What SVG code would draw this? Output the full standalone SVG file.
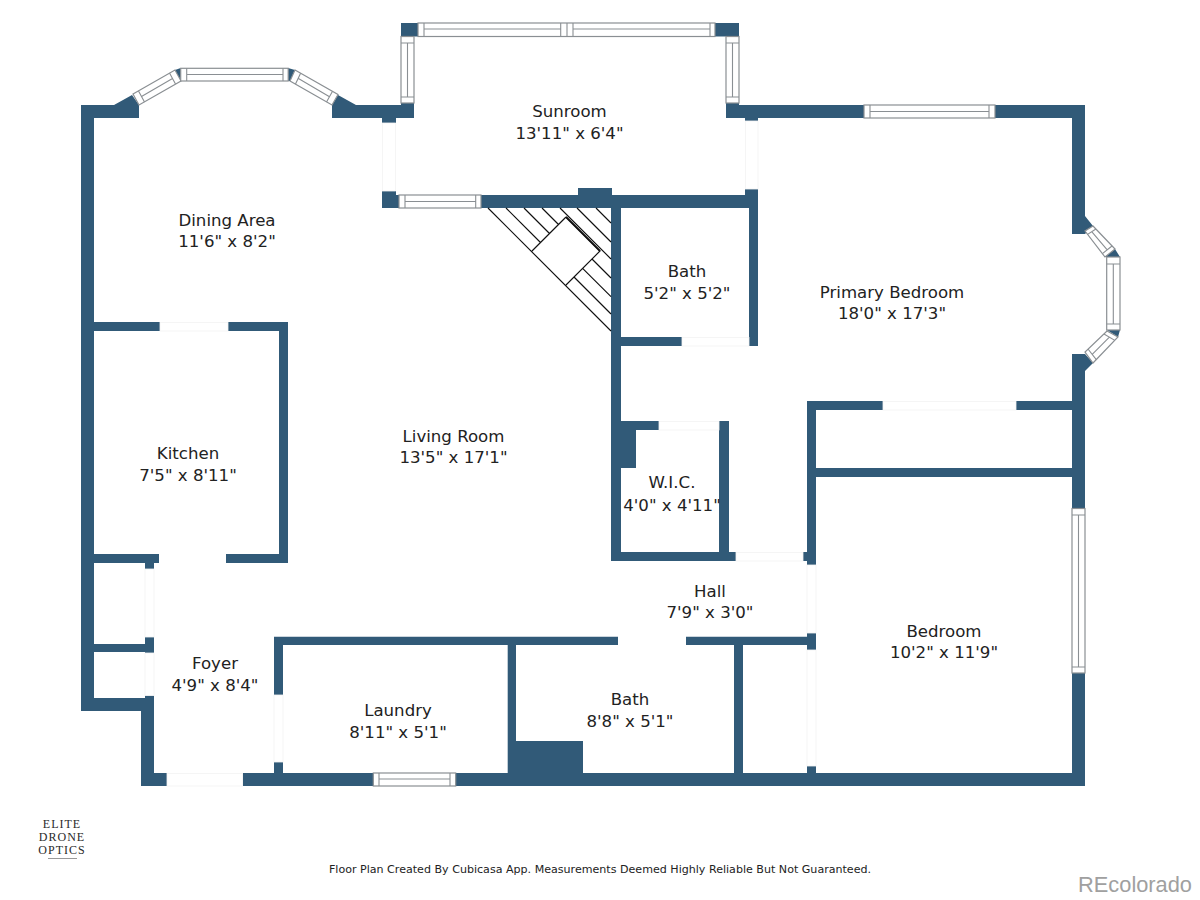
<svg xmlns="http://www.w3.org/2000/svg" width="1200" height="900" viewBox="0 0 1200 900">
<style>
.w{fill:#315a78;stroke:none}
.win{fill:#fff;stroke:#8a8f93;stroke-width:1.2}
.d{fill:none;stroke:#8a8f93;stroke-width:1.1}
.door{fill:#fff;stroke:#f3f3f3;stroke-width:.8}
.s{stroke:#111;stroke-width:1.15;fill:none}
.t{font-family:"DejaVu Sans",Verdana,sans-serif;font-size:16.6px;fill:#222;text-anchor:middle}
</style>
<rect width="1200" height="900" fill="#fff"/>
<g id="walls">
<path class="w" d="M81 105H114L132 95L139 105V118H94V711H81Z"/>
<path class="w" d="M94 698H145V695.500H154V773H167V786H141V711H94Z"/>
<path class="w" d="M338 95L356 105H401V103H414V118H396V123H382V118H332V105Z"/>
<path class="w" d="M401 23H419V36.500H401Z"/>
<path class="w" d="M715 23H739V36.500H715Z"/>
<path class="w" d="M726 103H739V105H1085V216L1093 226L1085 234H1072V118H758V121H745V118H726Z"/>
<path class="w" d="M1072 354H1085L1093 363L1085 371V508.500H1072Z"/>
<path class="w" d="M1072 673H1085V786H243V773H274V762H283V773H1072Z"/>
<path class="w" d="M382 191H396V195H399V208H382Z"/>
<path class="w" d="M481 195H578V188H612V195H745V189H758V346H749V208H621V337H682V346H621V421H659V430H636V468H621V552H719V421H729V552H736V561H611V208H481Z"/>
<path class="w" d="M807 401H883V410H816V468H1072V477H816V565H807V561H803V552H807Z"/>
<path class="w" d="M94 322H160V331H94Z"/>
<path class="w" d="M228 322H288V563H226V554H279V331H228Z"/>
<path class="w" d="M94 554H159V563H154V569H145V563H94Z"/>
<path class="w" d="M94 644H145V637H154V653H145V652H94Z"/>
<path class="w" d="M274 636.700H618V645H516V741H583V773H507.700V645H283V695H274Z"/>
<path class="w" d="M686 636.700H807V633H816V650H807V645H743V773H734V645H686Z"/>
<path class="w" d="M807 766H816V773H807Z"/>
<path class="w" d="M1016 401H1072V410H1016Z"/>
<path class="w" d="M175 70L180.700 68V81Z"/>
<path class="w" d="M288 68L295 70L290 81H288Z"/>
<path class="w" d="M1105 257L1115 249L1120 257Z"/>
<path class="w" d="M1107 330H1120L1118 337Z"/>
</g>
<g id="windows">
<g id="win-dining-left"><path class="win" d="M133 94L175 70L181 81L139 105Z"/><path class="d" d="M138.500 90.900L144.500 101.900M169.500 73.100L175.500 84.100M141.500 96.400L172.500 78.600"/></g>
<g id="win-dining-top"><rect class="win" x="180.700" y="68.300" width="107.500" height="12.700"/><path class="d" d="M186.700 68.300V81M283 68.300V81M186.700 74.500H283"/></g>
<g id="win-dining-right"><path class="win" d="M295 70L338 94.500L332 105L290 81Z"/><path class="d" d="M300.600 73.200L295.500 84.100M332.400 91.600L326.500 101.900M298 78.200L329.500 96.800"/></g>
<g id="win-sun-top"><rect class="win" x="418" y="23" width="297" height="13.500"/><path class="d" d="M424 23V36.500M560.700 23V36.500M567 23V36.500M573 23V36.500M710 23V36.500M424 29H560.700M573 29H710"/></g>
<g id="win-sun-left"><rect class="win" x="401" y="36.500" width="13" height="66.500"/><path class="d" d="M401 43H414M401 97H414M407.500 43V97"/></g>
<g id="win-sun-right"><rect class="win" x="726" y="36.500" width="13" height="66.500"/><path class="d" d="M726 43H739M726 97H739M732.500 43V97"/></g>
<g id="win-sun-low"><rect class="win" x="399" y="195" width="82" height="13"/><path class="d" d="M405 195V208M475.700 195V208M405 201.500H475.700"/></g>
<g id="win-primary-top"><rect class="win" x="864" y="105" width="131" height="13"/><path class="d" d="M870 105V118M989 105V118M870 111.500H989"/></g>
<g id="win-bay-top"><path class="win" d="M1093 226L1115 249L1105 257L1085 231Z"/><path class="d" d="M1095.900 229L1087.600 234.400M1112 246L1102.400 253.600M1091.700 231.700L1107.200 249.800"/></g>
<g id="win-bay-mid"><rect class="win" x="1106.700" y="257" width="13.300" height="73"/><path class="d" d="M1106.700 264H1120M1106.700 324H1120M1113.300 264V324"/></g>
<g id="win-bay-bottom"><path class="win" d="M1107 331L1118 337L1093 363L1085 352Z"/><path class="d" d="M1104 334L1114.800 340.400M1088 349L1096.300 359.600M1109.400 337.200L1092.200 354.300"/></g>
<g id="win-bedroom"><rect class="win" x="1072" y="508.500" width="13" height="164.500"/><path class="d" d="M1072 515H1085M1072 667H1085M1078.500 515V667"/></g>
<g id="win-laundry"><rect class="win" x="373.300" y="773" width="82.400" height="13"/><path class="d" d="M379 773V786M450 773V786M379 779H450"/></g>
</g>
<g id="stairs">
<path class="s" d="M488 208L611 331M506 208L540.500 242.500M524 208L549.500 233.500M542 208L558.500 224.500M577 208L611 242M596 208L611 223M560 208L611 259M566 217L600 251L566 285M532 251L566 217M611 278L592 259M611 296.700L582.600 268.300M611 314L574 277"/>
<path d="M566 217L600 251" stroke="#111" stroke-width="1.800" fill="none"/>
</g>
<g id="doors">
<rect class="door" x="382.500" y="123" width="13" height="68"/>
<rect class="door" x="745.500" y="121" width="12.500" height="68"/>
<rect class="door" x="160" y="322.500" width="68" height="8.500"/>
<rect class="door" x="682" y="337.500" width="67" height="8.500"/>
<rect class="door" x="659" y="421.500" width="60" height="8.500"/>
<rect class="door" x="883" y="401.500" width="133" height="8.500"/>
<rect class="door" x="736" y="552.500" width="67" height="8.500"/>
<rect class="door" x="145" y="569" width="9" height="68"/>
<rect class="door" x="145" y="653" width="9" height="42.500"/>
<rect class="door" x="274" y="695" width="9" height="67"/>
<rect class="door" x="167" y="773.500" width="75.500" height="12.500"/>
<rect class="door" x="807" y="565" width="9" height="68"/>
<rect class="door" x="807" y="650" width="9" height="116"/>
</g>
<g id="labels">
<g id="room-sunroom"><text class="t" x="569.500" y="117">Sunroom</text><text class="t" x="569.500" y="139">13'11" x 6'4"</text></g>
<g id="room-dining"><text class="t" x="227" y="226">Dining Area</text><text class="t" x="227" y="247">11'6" x 8'2"</text></g>
<g id="room-bath1"><text class="t" x="687" y="277">Bath</text><text class="t" x="687" y="299">5'2" x 5'2"</text></g>
<g id="room-primary"><text class="t" x="892" y="298">Primary Bedroom</text><text class="t" x="892" y="319">18'0" x 17'3"</text></g>
<g id="room-kitchen"><text class="t" x="188" y="459">Kitchen</text><text class="t" x="188" y="481">7'5" x 8'11"</text></g>
<g id="room-living"><text class="t" x="453.500" y="442">Living Room</text><text class="t" x="453.500" y="463">13'5" x 17'1"</text></g>
<g id="room-wic"><text class="t" x="672" y="488">W.I.C.</text><text class="t" x="672" y="511">4'0" x 4'11"</text></g>
<g id="room-hall"><text class="t" x="710" y="597">Hall</text><text class="t" x="710" y="618">7'9" x 3'0"</text></g>
<g id="room-bedroom"><text class="t" x="944" y="637">Bedroom</text><text class="t" x="944" y="658">10'2" x 11'9"</text></g>
<g id="room-foyer"><text class="t" x="215" y="669">Foyer</text><text class="t" x="215" y="691">4'9" x 8'4"</text></g>
<g id="room-laundry"><text class="t" x="398" y="716">Laundry</text><text class="t" x="398" y="738">8'11" x 5'1"</text></g>
<g id="room-bath2"><text class="t" x="630" y="705">Bath</text><text class="t" x="630" y="727">8'8" x 5'1"</text></g>
</g>
<g id="logo" font-family="'Liberation Serif',serif" font-size="12px" fill="#2a2a2a" text-anchor="middle" letter-spacing="1">
<text x="62" y="828">ELITE</text><text x="62" y="841">DRONE</text><text x="62" y="854">OPTICS</text>
<path d="M48 858.500H77" stroke="#999" stroke-width="1"/>
</g>
<text x="600" y="873" font-family="'DejaVu Sans',sans-serif" font-size="11.080px" fill="#222" text-anchor="middle">Floor Plan Created By Cubicasa App. Measurements Deemed Highly Reliable But Not Guaranteed.</text>
<text x="1192" y="892" font-family="'Liberation Sans',Arial,sans-serif" font-size="21.800px" fill="#a0a0a0" text-anchor="end">REcolorado</text>
</svg>
